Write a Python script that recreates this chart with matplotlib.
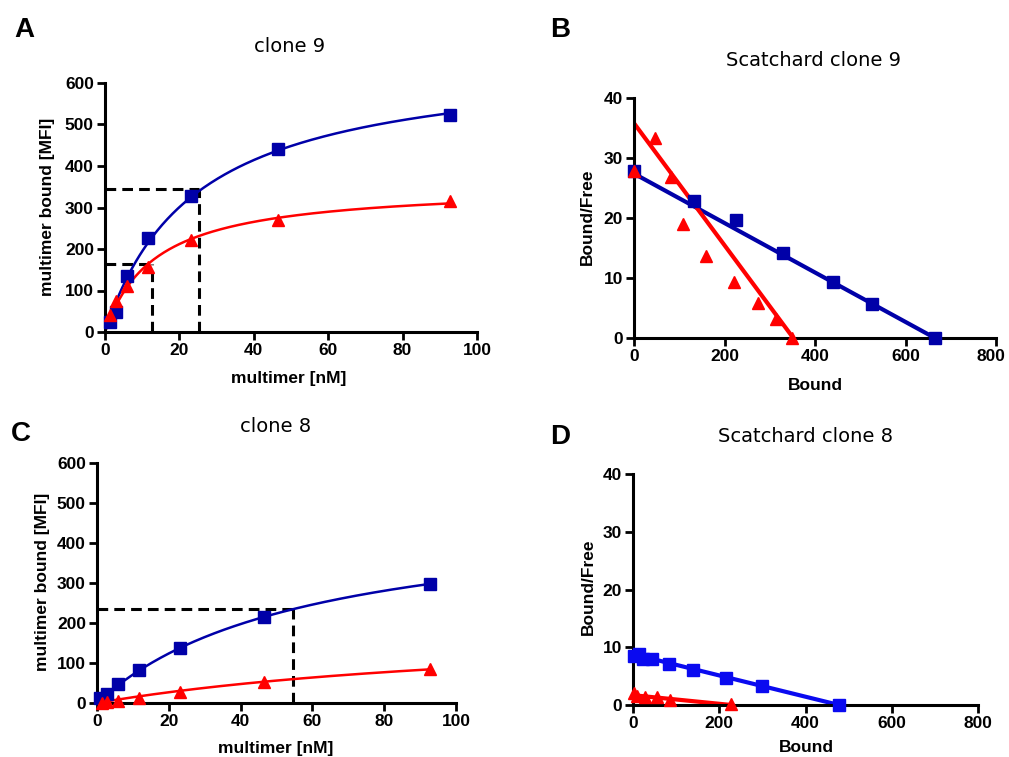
import matplotlib.pyplot as plt
import matplotlib.transforms as mtransforms
import numpy as np

W, H = 1009, 757

# concentrations of multimer [nM]
conc = [1.45, 2.9, 5.8, 11.6, 23.2, 46.4, 92.8]

# clone 9 saturation binding
conc9_blue = conc
mfi9_blue = [23, 47, 134, 226, 328, 440, 524]
conc9_red = conc
mfi9_red = [42, 75, 110, 156, 221, 271, 315]
fit9_blue = (665, 24.2)   # Bmax, Kd
fit9_red = (355, 13.5)
kd9_blue = (25.2, 345)    # dashed guide (x, y)
kd9_red = (12.5, 165)

# Scatchard clone 9
sc9_blue_x = [0, 133, 226, 329, 439, 525, 665]
sc9_blue_y = [27.9, 22.9, 19.7, 14.2, 9.4, 5.6, 0]
sc9_red_x = [0, 46, 81, 108, 159, 220, 274, 313, 350]
sc9_red_y = [27.8, 33.3, 26.8, 19.0, 13.6, 9.4, 5.8, 3.2, 0]
sc9_blue_line = ([0, 665], [27.4, 0])
sc9_red_line = ([0, 352], [35.8, 0])

# clone 8 saturation binding
conc8_blue = [0.8, 2.9, 5.8, 11.6, 23.2, 46.4, 92.8]
mfi8_blue = [12, 22, 47, 82, 138, 215, 298]
conc8_red = conc
mfi8_red = [1, 3, 6, 12, 27, 53, 84]
fit8_blue = (485, 58.3)
fit8_red = (203, 131)
kd8_blue = (54.6, 234)

# Scatchard clone 8
sc8_blue_x = [1.5, 13, 23, 44, 84, 139, 215, 299, 478]
sc8_blue_y = [8.5, 8.8, 7.9, 7.9, 7.1, 6.0, 4.7, 3.35, 0]
sc8_red_x = [3, 10, 28, 55, 85, 228]
sc8_red_y = [2.0, 1.6, 1.3, 1.3, 0.9, 0.1]
sc8_blue_line = ([0, 478], [8.8, 0])
sc8_red_line = ([0, 228], [1.7, 0])

BLUE = '#0000a8'
BLUE_D = '#0a0af0'
RED = '#ff0000'
LABFONT = ['Liberation Sans', 'DejaVu Sans']

fig = plt.figure(figsize=(W / 100, H / 100), dpi=100)


def px_axes(left, right, top, bottom):
    return fig.add_axes([left / W, 1 - bottom / H, (right - left) / W, (bottom - top) / H])


def style(ax, xlim, xticks, ylim, yticks):
    ax.set_xlim(*xlim)
    ax.set_ylim(*ylim)
    ax.set_xticks(xticks)
    ax.set_yticks(yticks)
    for s in ['top', 'right']:
        ax.spines[s].set_visible(False)
    for s in ['left', 'bottom']:
        ax.spines[s].set_linewidth(2.2)
    ax.tick_params(direction='out', length=6, width=2, pad=2)
    for lab in ax.get_xticklabels() + ax.get_yticklabels():
        lab.set_family(LABFONT)
        lab.set_fontweight('bold')
        lab.set_fontsize(12.5)


def ftext(x, y, s, **kw):
    fig.text(x / W, 1 - y / H, s, ha='center', va='center', **kw)


def hyperbola(ax, fit, color, xmax=92.8):
    bmax, kd = fit
    xs = np.linspace(0, xmax, 200)
    ax.plot(xs, bmax * xs / (kd + xs), color=color, lw=1.8, zorder=2)


def guide(ax, pt):
    x, y = pt
    ax.plot([0, x], [y, y], color='black', lw=2.2, ls=(0, (3.5, 2)), zorder=1, clip_on=False)
    ax.plot([x, x], [0, y], color='black', lw=2.2, ls=(0, (3.5, 2)), zorder=1, clip_on=False)


mk = dict(clip_on=False, zorder=3, linestyle='none')

# A
axA = px_axes(105, 477, 83, 332)
guide(axA, kd9_blue)
guide(axA, kd9_red)
hyperbola(axA, fit9_blue, BLUE)
hyperbola(axA, fit9_red, RED)
axA.plot(conc9_blue, mfi9_blue, marker='s', ms=9, color=BLUE, **mk)
axA.plot(conc9_red, mfi9_red, marker='^', ms=8, color=RED, **mk)
style(axA, (0, 100), range(0, 101, 20), (0, 600), range(0, 601, 100))

# B
axB = px_axes(634, 996, 98, 338)
axB.plot(*sc9_blue_line, color=BLUE, lw=3, zorder=2)
axB.plot(*sc9_red_line, color=RED, lw=3, zorder=2)
axB.plot(sc9_blue_x, sc9_blue_y, marker='s', ms=9, color=BLUE, **mk)
axB.plot(sc9_red_x, sc9_red_y, marker='^', ms=8, color=RED, **mk)
style(axB, (0, 800), range(0, 801, 200), (0, 40), range(0, 41, 10))
# keep the last tick label inside the figure edge
last = axB.get_xticklabels()[-1]
last.set_transform(last.get_transform()
                   + mtransforms.ScaledTranslation(-5 / 100, 0, fig.dpi_scale_trans))

# C
axC = px_axes(97, 456, 463, 703)
guide(axC, kd8_blue)
hyperbola(axC, fit8_blue, BLUE)
hyperbola(axC, fit8_red, RED)
axC.plot(conc8_blue, mfi8_blue, marker='s', ms=9, color=BLUE, **mk)
axC.plot(conc8_red, mfi8_red, marker='^', ms=8, color=RED, **mk)
style(axC, (0, 100), range(0, 101, 20), (0, 600), range(0, 601, 100))

# D
axD = px_axes(633, 978, 474, 705)
axD.plot(*sc8_blue_line, color=BLUE_D, lw=3, zorder=2)
axD.plot(*sc8_red_line, color=RED, lw=3, zorder=2)
axD.plot(sc8_blue_x, sc8_blue_y, marker='s', ms=9, color=BLUE_D, **mk)
axD.plot(sc8_red_x, sc8_red_y, marker='^', ms=8, color=RED, **mk)
style(axD, (0, 800), range(0, 801, 200), (0, 40), range(0, 41, 10))

# panel letters
for (x, y, s) in [(24, 30, 'A'), (560, 30, 'B'), (21, 434, 'C'), (560, 437, 'D')]:
    ftext(x, y, s, fontsize=20, fontweight='bold', family=LABFONT)

# titles
ftext(290, 46, 'clone 9', fontsize=14)
ftext(814, 61, 'Scatchard clone 9', fontsize=14)
ftext(276, 427, 'clone 8', fontsize=14)
ftext(805, 437, 'Scatchard clone 8', fontsize=14)

# axis labels
lab = dict(fontsize=12.5, fontweight='bold', family=LABFONT)
ftext(289, 379, 'multimer [nM]', **lab)
ftext(815, 385, 'Bound', **lab)
ftext(276, 748, 'multimer [nM]', **lab)
ftext(806, 747, 'Bound', **lab)
ftext(48, 207, 'multimer bound [MFI]', rotation=90, **lab)
ftext(587, 217, 'Bound/Free', rotation=90, **lab)
ftext(43, 582, 'multimer bound [MFI]', rotation=90, **lab)
ftext(588, 587, 'Bound/Free', rotation=90, **lab)

fig.savefig('out.png', dpi=100)
